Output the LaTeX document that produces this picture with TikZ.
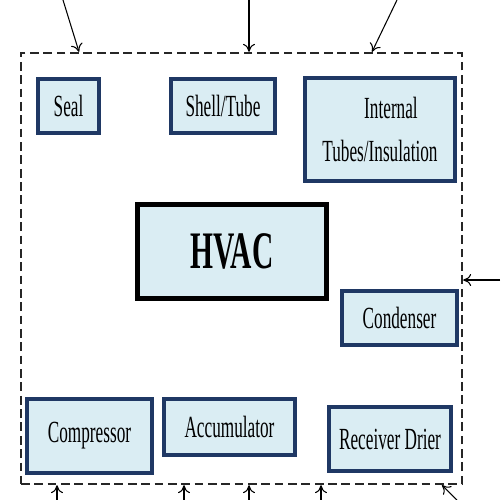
\documentclass[tikz,border=0pt]{standalone}
\usepackage{fontspec}
\setmainfont{Liberation Serif}[FakeStretch=0.56]
\usepackage{tikz}
\usetikzlibrary{arrows.meta, positioning}

\definecolor{partfill}{RGB}{218,237,243}
\definecolor{partline}{RGB}{31,56,100}

\begin{document}
\begin{tikzpicture}[
    x=0.02cm, y=-0.02cm,
    part/.style={rectangle, draw=partline, line width=2.2pt, fill=partfill, align=center,
                 inner sep=0pt, font=\fontsize{17.5}{24.5}\selectfont},
    core/.style={rectangle, draw=black, line width=2.8pt, fill=partfill, inner sep=0pt,
                 font=\fontsize{30}{34}\selectfont\bfseries},
    border/.style={rectangle, draw=black!85, line width=1.3pt, dash pattern=on 5pt off 2.6pt, inner sep=0pt},
    arrow/.style={-{To[length=1.6mm, width=2.4mm]}, line width=0.6pt}
]
    \useasboundingbox (0,0) rectangle (500,500);

    % Boundary
    \node[border, minimum width=441*0.02cm, minimum height=431*0.02cm] (sys) at (241.5,268.5) {};

    % Nodes
    \node[part, minimum width=61*0.02cm, minimum height=54*0.02cm] (seal) at (68.5,106) {Seal};
    \node[part, minimum width=104*0.02cm, minimum height=54*0.02cm] (shell) at (223,106) {Shell/Tube};
    \node[part, minimum width=150*0.02cm, minimum height=103*0.02cm] (tubes) at (380,129.5) {\hspace*{0.44cm}Internal\\Tubes/Insulation};
    \node[core, minimum width=189*0.02cm, minimum height=94*0.02cm] (hvac) at (232,251.5) {HVAC};
    \node[part, minimum width=115*0.02cm, minimum height=54*0.02cm] (cond) at (399.5,318) {Condenser};
    \node[part, minimum width=125*0.02cm, minimum height=74*0.02cm] (comp) at (89.5,436) {Compressor};
    \node[part, minimum width=131*0.02cm, minimum height=56*0.02cm] (accu) at (229.5,427) {Accumulator};
    \node[part, minimum width=122*0.02cm, minimum height=64*0.02cm] (drier) at (390,439) {Receiver Drier};

    % Outside ends
    \coordinate (top1) at (63,0);
    \coordinate (top2) at (249,0);
    \coordinate (top3) at (397,0);
    \coordinate (right1) at (500,280);
    \coordinate (bot1) at (57,500);
    \coordinate (bot2) at (184,500);
    \coordinate (bot3) at (249,500);
    \coordinate (bot4) at (321,500);
    \coordinate (bot5) at (457,500);

    % Arrows
    \draw[arrow] (top1) -- (79,0 |- sys.north);
    \draw[arrow] (top2) -- (top2 |- sys.north);
    \draw[arrow] (top3) -- (372,0 |- sys.north);
    \draw[arrow] (right1) -- (right1 -| sys.east);
    \draw[arrow] (bot1) -- (bot1 |- sys.south);
    \draw[arrow] (bot2) -- (bot2 |- sys.south);
    \draw[arrow] (bot3) -- (bot3 |- sys.south);
    \draw[arrow] (bot4) -- (bot4 |- sys.south);
    \draw[arrow] (bot5) -- (442,0 |- sys.south);
\end{tikzpicture}
\end{document}
